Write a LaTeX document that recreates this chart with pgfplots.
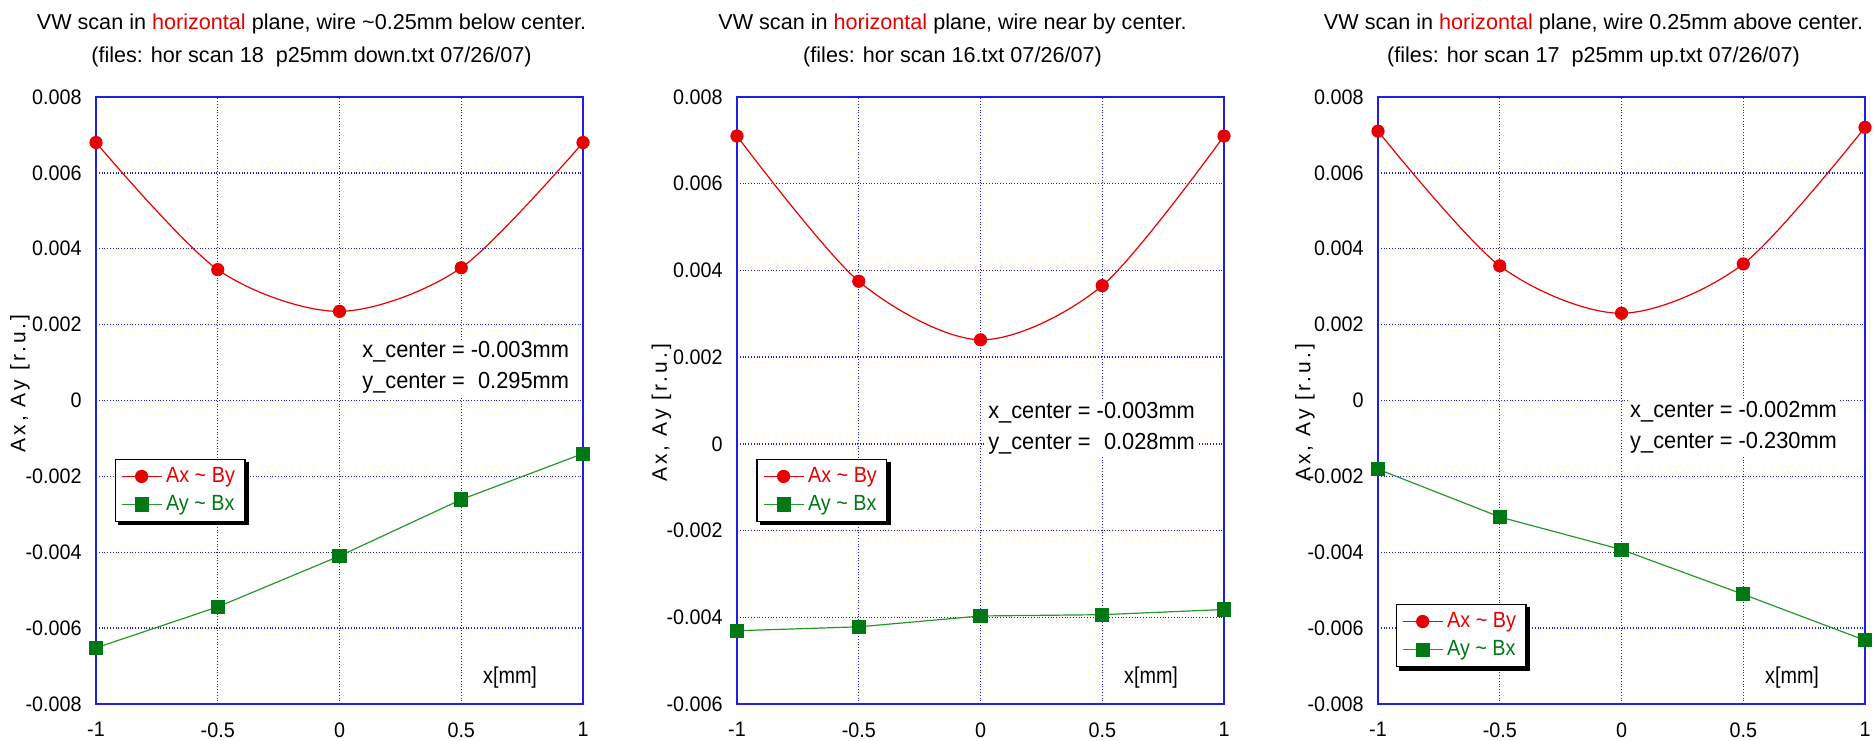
\documentclass[border=0pt]{standalone}
\usepackage{pgfplots}
\pgfplotsset{compat=1.18}
\usepackage{fontspec}
\setmainfont{Liberation Sans}
\newfontfamily\spaced{Liberation Sans}[LetterSpace=15]
\newfontfamily\condA{Liberation Sans}[FakeStretch=0.94]
\newfontfamily\condB{Liberation Sans}[FakeStretch=0.90]
\newfontfamily\condC{Liberation Sans}[FakeStretch=0.86]
\usetikzlibrary{calc}
\definecolor{rc}{RGB}{230,0,0}
\definecolor{gl}{RGB}{40,150,40}
\definecolor{gm}{RGB}{0,120,20}
\definecolor{bl}{RGB}{30,30,230}

\tikzset{
  note/.style={anchor=west, fill=white, inner sep=1pt, align=left, font=\condA\fontsize{11.6}{15.5}\selectfont},
  xlab/.style={anchor=east, font=\condC\fontsize{11.5}{13}\selectfont},
}
\pgfplotsset{panel/.style={
  width=243.5pt, height=303.5pt, scale only axis,
  xmin=-1, xmax=1, clip=false, scaled ticks=false,
  axis line style={bl, line width=0.75pt},
  grid=major, major grid style={bl, densely dotted, line width=0.7pt},
  major tick length=0pt,
  xtick={-1,-0.5,0,0.5,1}, xticklabels={-1,-0.5,0,0.5,1},
  tick label style={font=\condA\fontsize{10.5}{12}\selectfont, inner sep=0pt},
  xticklabel style={yshift=-9pt},
  yticklabel style={xshift=-7pt},
  title style={at={(0.5,1)}, anchor=south, yshift=9pt, xshift=-14pt, align=center, font=\fontsize{10.8}{16.5}\selectfont, inner sep=0pt},
  ylabel style={anchor=center, font=\spaced\fontsize{10.5}{12}\selectfont},
  ylabel={Ax, Ay [r.u.]},
  legend style={anchor=north west, draw=black, line width=0.6pt, fill=white,
    font=\condB\fontsize{11}{13}\selectfont, inner xsep=3pt, inner ysep=2pt,
    row sep=1pt, legend cell align=left},
  legend image code/.code={\draw[mark repeat=2,mark phase=2] plot coordinates {(0cm,0cm) (0.35cm,0cm) (0.7cm,0cm)};},
  redp/.style={rc, line width=0.6pt, smooth, mark=*, mark size=3pt, mark options={fill=rc, draw=rc}},
  grnp/.style={gl, line width=0.6pt, mark=square*, mark size=3.25pt, mark options={fill=gm, draw=gm}},
  yt8/.style={ymin=-0.008, ymax=0.008,
    ytick={-0.008,-0.006,-0.004,-0.002,0,0.002,0.004,0.006,0.008},
    yticklabels={-0.008,-0.006,-0.004,-0.002,0,0.002,0.004,0.006,0.008}},
}}
\newcommand\legshadow[1]{%
  \draw[black, line width=1.6pt]
    ($(#1.north east)+(0.8pt,-1.6pt)$) -- ($(#1.south east)+(0.8pt,-0.8pt)$)
    -- ($(#1.south west)+(1.6pt,-0.8pt)$);}

\begin{document}
\begin{tikzpicture}
\path[use as bounding box] (0,-18pt) rectangle (937pt,352pt);

% Panel 1
\begin{axis}[panel, yt8, at={(48pt,0pt)}, anchor=south west,
  title={VW scan in \textcolor{rc}{horizontal} plane, wire \textasciitilde0.25mm below center.\\(files: hor scan 18\ \ p25mm down.txt 07/26/07)},
  ylabel style={at={(axis description cs:-0.156,0.528)}},
  legend style={at={(0.038,0.404)}, name=legA}]
\addplot[redp] coordinates {(-1,0.0068) (-0.5,0.00345) (0,0.00235) (0.5,0.0035) (1,0.0068)};
\addlegendentry{\textcolor{rc}{Ax \textasciitilde{} By}}
\addplot[grnp] coordinates {(-1,-0.00652) (-0.5,-0.00544) (0,-0.00410) (0.5,-0.00261) (1,-0.00140)};
\addlegendentry{\textcolor{gm}{Ay \textasciitilde{} Bx}}
\node[note] at (axis description cs:0.542,0.554) {x\_center = -0.003mm\\y\_center = \phantom{-}0.295mm};
\node[xlab] at (axis description cs:0.92,0.043) {x[mm]};
\end{axis}
\legshadow{legA}

% Panel 2
\begin{axis}[panel, at={(368.5pt,0pt)}, anchor=south west,
  ymin=-0.006, ymax=0.008,
  ytick={-0.006,-0.004,-0.002,0,0.002,0.004,0.006,0.008},
  yticklabels={-0.006,-0.004,-0.002,0,0.002,0.004,0.006,0.008},
  title={VW scan in \textcolor{rc}{horizontal} plane, wire near by center.\\(files: hor scan 16.txt 07/26/07)},
  ylabel style={at={(axis description cs:-0.155,0.480)}},
  legend style={at={(0.040,0.404)}, name=legB}]
\addplot[redp] coordinates {(-1,0.0071) (-0.5,0.00375) (0,0.0024) (0.5,0.00365) (1,0.0071)};
\addlegendentry{\textcolor{rc}{Ax \textasciitilde{} By}}
\addplot[grnp] coordinates {(-1,-0.00431) (-0.5,-0.00422) (0,-0.00397) (0.5,-0.00394) (1,-0.00382)};
\addlegendentry{\textcolor{gm}{Ay \textasciitilde{} Bx}}
\node[note] at (axis description cs:0.511,0.455) {x\_center = -0.003mm\\y\_center = \phantom{-}0.028mm};
\node[xlab] at (axis description cs:0.92,0.043) {x[mm]};
\end{axis}
\legshadow{legB}

% Panel 3
\begin{axis}[panel, yt8, at={(689pt,0pt)}, anchor=south west,
  title={VW scan in \textcolor{rc}{horizontal} plane, wire 0.25mm above center.\\(files: hor scan 17\ \ p25mm up.txt 07/26/07)},
  ylabel style={at={(axis description cs:-0.150,0.480)}},
  legend style={at={(0.036,0.165)}, name=legC}]
\addplot[redp] coordinates {(-1,0.0071) (-0.5,0.00355) (0,0.0023) (0.5,0.0036) (1,0.0072)};
\addlegendentry{\textcolor{rc}{Ax \textasciitilde{} By}}
\addplot[grnp] coordinates {(-1,-0.00181) (-0.5,-0.00307) (0,-0.00393) (0.5,-0.00511) (1,-0.00632)};
\addlegendentry{\textcolor{gm}{Ay \textasciitilde{} Bx}}
\node[note] at (axis description cs:0.513,0.456) {x\_center = -0.002mm\\y\_center = -0.230mm};
\node[xlab] at (axis description cs:0.92,0.043) {x[mm]};
\end{axis}
\legshadow{legC}
\end{tikzpicture}
\end{document}
